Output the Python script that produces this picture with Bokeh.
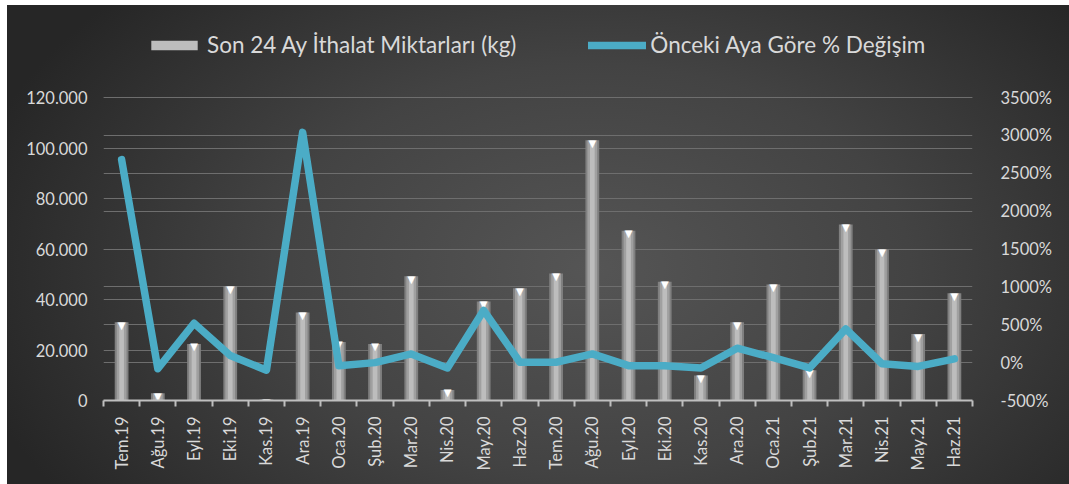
import math
from bokeh.plotting import figure
from bokeh.models import (Range1d, LinearAxis, FixedTicker, Grid, Legend, LegendItem,
                          CustomJSTickFormatter, PrintfTickFormatter, ColumnDataSource)
from bokeh.core.properties import value
from bokeh.embed import file_html
from bokeh.resources import INLINE

months = ["Tem.19", "Ağu.19", "Eyl.19", "Eki.19", "Kas.19", "Ara.19", "Oca.20", "Şub.20",
          "Mar.20", "Nis.20", "May.20", "Haz.20", "Tem.20", "Ağu.20", "Eyl.20", "Eki.20",
          "Kas.20", "Ara.20", "Oca.21", "Şub.21", "Mar.21", "Nis.21", "May.21", "Haz.21"]
imports_kg = [31000, 2900, 22400, 45300, 400, 34900, 23200, 22400, 49200, 4200, 39200, 44500,
              50300, 103100, 67200, 47000, 9900, 31000, 45900, 12000, 69700, 59900, 26300, 42500]
pct_change = [2680, -80, 520, 95, -100, 3040, -40, 0, 115, -70, 690, 5,
              5, 115, -40, -40, -70, 190, 65, -70, 445, -15, -50, 50]
left_ticks = [0, 20000, 40000, 60000, 80000, 100000, 120000]
right_ticks = [-500, 0, 500, 1000, 1500, 2000, 2500, 3000, 3500]
bar_label = "Son 24 Ay İthalat Miktarları (kg)"
line_label = "Önceki Aya Göre % Değişim"

n = len(months)
centers = [i + 0.5 for i in range(n)]
boundaries = [float(i) for i in range(n + 1)]
src = ColumnDataSource(dict(x=centers, kg=imports_kg, pct=pct_change))

FONT = "Lato"
TXT = "#d9d9d9"

# layout: the tick area (0..120000 / -500..3500%) spans 303 px; the frame is
# extended upward (no ticks there) so the legend can sit inside it.
W, H = 1062, 479
BORDER_TOP, BORDER_BOTTOM = 20, 84
AXIS_PX = 303
frame_px = H - BORDER_TOP - BORDER_BOTTOM
ext = frame_px / AXIS_PX
l_lo, l_hi = left_ticks[0], left_ticks[-1]
r_lo, r_hi = right_ticks[0], right_ticks[-1]

p = figure(width=W, height=H, x_range=Range1d(0, n),
           y_range=Range1d(l_lo, l_lo + (l_hi - l_lo) * ext),
           output_backend="svg", toolbar_location=None,
           min_border_left=96, min_border_right=97, min_border_bottom=BORDER_BOTTOM,
           min_border_top=BORDER_TOP)
p.margin = (5, 0, 0, 7)
p.border_fill_color = None
p.background_fill_color = None
p.outline_line_color = None
p.styles = {"background": "radial-gradient(ellipse 60% 85% at 55% 55%, #555555 0%, #434343 50%, #262626 100%)"}

p.extra_y_ranges = {"pct": Range1d(r_lo, r_lo + (r_hi - r_lo) * ext)}

# left axis
la = p.yaxis[0]
la.ticker = FixedTicker(ticks=left_ticks)
la.formatter = CustomJSTickFormatter(code="return tick.toFixed(0).replace(/\\B(?=(\\d{3})+(?!\\d))/g, '.');")
# right axis
ra = LinearAxis(y_range_name="pct", ticker=FixedTicker(ticks=right_ticks),
                formatter=PrintfTickFormatter(format="%d%%"))
p.add_layout(ra, "right")
for ax in (la, ra):
    ax.axis_line_color = None
    ax.major_tick_line_color = None
    ax.minor_tick_line_color = None
    ax.major_label_text_color = TXT
    ax.major_label_text_font = FONT
    ax.major_label_text_font_size = "16.5px"
la.major_label_standoff = 10
ra.major_label_standoff = 22

# x axis
xa = p.xaxis[0]
xa.ticker = FixedTicker(ticks=centers, minor_ticks=boundaries)
xa.formatter = CustomJSTickFormatter(args=dict(months=months),
                                     code="return months[Math.floor(tick)];")
xa.major_tick_line_color = None
xa.minor_tick_line_color = "#bfbfbf"
xa.minor_tick_line_width = 2
xa.minor_tick_out = 6
xa.minor_tick_in = 0
xa.axis_line_color = "#bfbfbf"
xa.axis_line_width = 2
xa.major_label_orientation = math.pi / 2
xa.major_label_text_color = TXT
xa.major_label_text_font = FONT
xa.major_label_text_font_size = "16.5px"
xa.major_label_standoff = 10

# grids
p.xgrid.grid_line_color = None
p.ygrid.ticker = la.ticker
p.ygrid.grid_line_color = "#6e6e6e"
p.ygrid.grid_line_width = 1
rg = Grid(dimension=1, ticker=ra.ticker, y_range_name="pct", grid_line_color="#6e6e6e",
          grid_line_width=1)
p.add_layout(rg)

# bars (cylinder look)
p.vbar(x="x", top="kg", width=0.38, source=src, fill_color="#808080", line_color=None)
p.vbar(x="x", top="kg", width=0.27, source=src, fill_color="#a0a0a0", line_color=None)
inner = p.vbar(x="x", top="kg", width=0.13, source=src, fill_color="#bdbdbd", line_color=None)
p.text(x="x", y="kg", text=value("▼"), source=src, text_align="center", text_baseline="middle",
       y_offset=3, text_font_size="10px", text_color="white", text_font=value("DejaVu Sans"))

line = p.line(x="x", y="pct", source=src, y_range_name="pct", line_width=7.5,
              line_color="#4bacc6", line_join="round", line_cap="round")

legend = Legend(items=[LegendItem(label=bar_label, renderers=[inner]),
                       LegendItem(label=line_label, renderers=[line])],
                orientation="horizontal", location=(42, 342))
legend.glyph_width = 58
legend.glyph_height = 12
legend.label_standoff = 4
legend.spacing = 72
legend.padding = 0
legend.margin = 0
legend.background_fill_alpha = 0
legend.border_line_color = None
legend.label_text_color = TXT
legend.label_text_font = FONT
legend.label_text_font_size = "22.5px"
p.add_layout(legend, "center")

open("out.html", "w").write(file_html(p, INLINE))
